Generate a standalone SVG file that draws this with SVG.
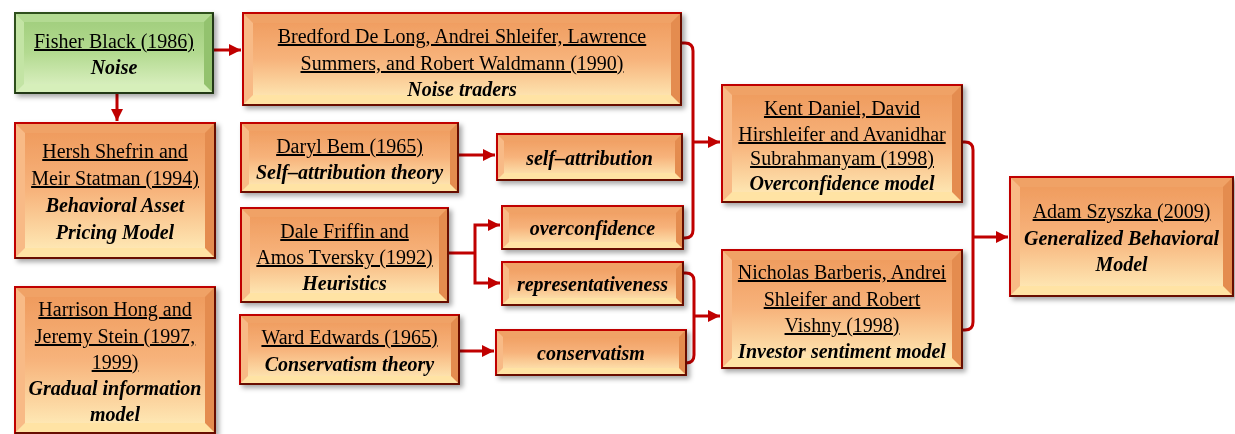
<svg xmlns="http://www.w3.org/2000/svg" width="1235" height="434" viewBox="0 0 1235 434">
<style>
text{font-family:"Liberation Serif","Times New Roman",serif;font-size:20px;fill:#000;text-anchor:middle}
.a{text-decoration:underline}
.m{font-weight:bold;font-style:italic}
.box{fill:url(#face);stroke:#C00000;stroke-width:2}
.gbox{fill:url(#gface);stroke:#2F4F1F;stroke-width:2}
.ft{fill:#F0A266}
.fb{fill:#FFE3A4}
.fl{fill:#F8BA86}
.fr{fill:#E48C50}
.gt{fill:#B3DA92}
.gb{fill:#D6EFBA}
.gl{fill:#C3E4A4}
.gr{fill:#93C26E}
.edge{fill:none;stroke:#4A1400;stroke-width:1.5}
.gedge{fill:none;stroke:#1E3312;stroke-width:1.5}
.c{fill:none;stroke:#C00000;stroke-width:3}
.arr{marker-end:url(#ah)}
</style>
<defs>
<linearGradient id="face" x1="0" y1="0" x2="0" y2="1">
<stop offset="0" stop-color="#EE985A"/>
<stop offset="0.5" stop-color="#F7B37B"/>
<stop offset="1" stop-color="#FFEFBC"/>
</linearGradient>
<linearGradient id="gface" x1="0" y1="0" x2="0" y2="1">
<stop offset="0" stop-color="#9ECC7A"/>
<stop offset="0.5" stop-color="#B3DA90"/>
<stop offset="1" stop-color="#E0F3C8"/>
</linearGradient>
<filter id="sh" x="-10%" y="-10%" width="125%" height="130%">
<feDropShadow dx="3" dy="3" stdDeviation="2.5" flood-color="#000" flood-opacity="0.35"/>
</filter>
<marker id="ah" markerUnits="userSpaceOnUse" markerWidth="14" markerHeight="14" refX="12" refY="7" orient="auto">
<path d="M0,1 L12,7 L0,13 Z" fill="#C00000"/>
</marker>
</defs>

<g id="connectors">
<path class="c arr" d="M213,50 H241"/>
<path class="c arr" d="M117,93 V121"/>
<path class="c arr" d="M458,155 H495"/>
<path class="c" d="M448,253 H475"/>
<path class="c arr" d="M475,253 V225 H500"/>
<path class="c arr" d="M475,253 V283 H500"/>
<path class="c arr" d="M459,351 H494"/>
<path class="c" d="M681,43 H685 Q693,43 693,51 V230 Q693,238 685,238 H683"/>
<path class="c arr" d="M693,142 H720"/>
<path class="c" d="M683,273 H686 Q694,273 694,281 V355 Q694,363 686,363"/>
<path class="c arr" d="M694,316 H720"/>
<path class="c" d="M962,142 H965 Q973,142 973,150 V322 Q973,330 965,330 H962"/>
<path class="c arr" d="M973,237 H1008"/>
</g>

<g id="fisher" filter="url(#sh)">
<rect class="gbox" x="15" y="13" width="198" height="80"/>
<path class="gt" d="M15,13 h198 l-9,9 h-180 z"/>
<path class="gb" d="M15,93 h198 l-9,-9 h-180 z"/>
<path class="gl" d="M15,13 l9,9 v62 l-9,9 z"/>
<path class="gr" d="M213,13 l-9,9 v62 l9,9 z"/>
<rect class="gbox" x="15" y="13" width="198" height="80" fill="none" style="fill:none"/>
<path class="gedge" d="M213,13 V93 H15"/>
<text x="114" y="48" class="a">Fisher Black (1986)</text>
<text x="114" y="74" class="m">Noise</text>
</g>

<g id="noise-traders" filter="url(#sh)">
<rect class="box" x="243" y="13" width="438" height="92"/>
<path class="ft" d="M243,13 h438 l-10,10 h-418 z"/>
<path class="fb" d="M243,105 h438 l-10,-10 h-418 z"/>
<path class="fl" d="M243,13 l10,10 v72 l-10,10 z"/>
<path class="fr" d="M681,13 l-10,10 v72 l10,10 z"/>
<rect class="box" x="243" y="13" width="438" height="92" style="fill:none"/>
<path class="edge" d="M681,13 V105 H243"/>
<text x="462" y="43" class="a">Bredford De Long, Andrei Shleifer, Lawrence</text>
<text x="462" y="70" class="a">Summers, and Robert Waldmann (1990)</text>
<text x="462" y="96" class="m">Noise traders</text>
</g>

<g id="shefrin" filter="url(#sh)">
<rect class="box" x="15" y="123" width="200" height="135"/>
<path class="ft" d="M15,123 h200 l-10,10 h-180 z"/>
<path class="fb" d="M15,258 h200 l-10,-10 h-180 z"/>
<path class="fl" d="M15,123 l10,10 v115 l-10,10 z"/>
<path class="fr" d="M215,123 l-10,10 v115 l10,10 z"/>
<rect class="box" x="15" y="123" width="200" height="135" style="fill:none"/>
<path class="edge" d="M215,123 V258 H15"/>
<text x="115" y="158" class="a">Hersh Shefrin and</text>
<text x="115" y="185" class="a">Meir Statman (1994)</text>
<text x="115" y="212" class="m">Behavioral Asset</text>
<text x="115" y="239" class="m">Pricing Model</text>
</g>

<g id="hong" filter="url(#sh)">
<rect class="box" x="15" y="287" width="200" height="146"/>
<path class="ft" d="M15,287 h200 l-10,10 h-180 z"/>
<path class="fb" d="M15,433 h200 l-10,-10 h-180 z"/>
<path class="fl" d="M15,287 l10,10 v126 l-10,10 z"/>
<path class="fr" d="M215,287 l-10,10 v126 l10,10 z"/>
<rect class="box" x="15" y="287" width="200" height="146" style="fill:none"/>
<path class="edge" d="M215,287 V433 H15"/>
<text x="115" y="316" class="a">Harrison Hong and</text>
<text x="115" y="343" class="a">Jeremy Stein (1997,</text>
<text x="115" y="369" class="a">1999)</text>
<text x="115" y="395" class="m">Gradual information</text>
<text x="115" y="421" class="m">model</text>
</g>

<g id="bem" filter="url(#sh)">
<rect class="box" x="241" y="123" width="217" height="69"/>
<path class="ft" d="M241,123 h217 l-8,8 h-201 z"/>
<path class="fb" d="M241,192 h217 l-8,-8 h-201 z"/>
<path class="fl" d="M241,123 l8,8 v53 l-8,8 z"/>
<path class="fr" d="M458,123 l-8,8 v53 l8,8 z"/>
<rect class="box" x="241" y="123" width="217" height="69" style="fill:none"/>
<path class="edge" d="M458,123 V192 H241"/>
<text x="349.5" y="153" class="a">Daryl Bem (1965)</text>
<text x="349.5" y="179" class="m">Self–attribution theory</text>
</g>

<g id="self-attribution" filter="url(#sh)">
<rect class="box" x="497" y="134" width="185" height="46"/>
<path class="ft" d="M497,134 h185 l-7,7 h-171 z"/>
<path class="fb" d="M497,180 h185 l-7,-7 h-171 z"/>
<path class="fl" d="M497,134 l7,7 v32 l-7,7 z"/>
<path class="fr" d="M682,134 l-7,7 v32 l7,7 z"/>
<rect class="box" x="497" y="134" width="185" height="46" style="fill:none"/>
<path class="edge" d="M682,134 V180 H497"/>
<text x="589.5" y="165" class="m">self–attribution</text>
</g>

<g id="friffin" filter="url(#sh)">
<rect class="box" x="241" y="208" width="207" height="94"/>
<path class="ft" d="M241,208 h207 l-9,9 h-189 z"/>
<path class="fb" d="M241,302 h207 l-9,-9 h-189 z"/>
<path class="fl" d="M241,208 l9,9 v76 l-9,9 z"/>
<path class="fr" d="M448,208 l-9,9 v76 l9,9 z"/>
<rect class="box" x="241" y="208" width="207" height="94" style="fill:none"/>
<path class="edge" d="M448,208 V302 H241"/>
<text x="344.5" y="238" class="a">Dale Friffin and</text>
<text x="344.5" y="264" class="a">Amos Tversky (1992)</text>
<text x="344.5" y="290" class="m">Heuristics</text>
</g>

<g id="overconfidence" filter="url(#sh)">
<rect class="box" x="502" y="206" width="181" height="43"/>
<path class="ft" d="M502,206 h181 l-7,7 h-167 z"/>
<path class="fb" d="M502,249 h181 l-7,-7 h-167 z"/>
<path class="fl" d="M502,206 l7,7 v29 l-7,7 z"/>
<path class="fr" d="M683,206 l-7,7 v29 l7,7 z"/>
<rect class="box" x="502" y="206" width="181" height="43" style="fill:none"/>
<path class="edge" d="M683,206 V249 H502"/>
<text x="592.5" y="235" class="m">overconfidence</text>
</g>

<g id="representativeness" filter="url(#sh)">
<rect class="box" x="502" y="262" width="181" height="43"/>
<path class="ft" d="M502,262 h181 l-7,7 h-167 z"/>
<path class="fb" d="M502,305 h181 l-7,-7 h-167 z"/>
<path class="fl" d="M502,262 l7,7 v29 l-7,7 z"/>
<path class="fr" d="M683,262 l-7,7 v29 l7,7 z"/>
<rect class="box" x="502" y="262" width="181" height="43" style="fill:none"/>
<path class="edge" d="M683,262 V305 H502"/>
<text x="592.5" y="291" class="m">representativeness</text>
</g>

<g id="edwards" filter="url(#sh)">
<rect class="box" x="240" y="315" width="219" height="69"/>
<path class="ft" d="M240,315 h219 l-8,8 h-203 z"/>
<path class="fb" d="M240,384 h219 l-8,-8 h-203 z"/>
<path class="fl" d="M240,315 l8,8 v53 l-8,8 z"/>
<path class="fr" d="M459,315 l-8,8 v53 l8,8 z"/>
<rect class="box" x="240" y="315" width="219" height="69" style="fill:none"/>
<path class="edge" d="M459,315 V384 H240"/>
<text x="349.5" y="344" class="a">Ward Edwards (1965)</text>
<text x="349.5" y="371" class="m">Conservatism theory</text>
</g>

<g id="conservatism" filter="url(#sh)">
<rect class="box" x="496" y="330" width="190" height="45"/>
<path class="ft" d="M496,330 h190 l-7,7 h-176 z"/>
<path class="fb" d="M496,375 h190 l-7,-7 h-176 z"/>
<path class="fl" d="M496,330 l7,7 v31 l-7,7 z"/>
<path class="fr" d="M686,330 l-7,7 v31 l7,7 z"/>
<rect class="box" x="496" y="330" width="190" height="45" style="fill:none"/>
<path class="edge" d="M686,330 V375 H496"/>
<text x="591" y="360" class="m">conservatism</text>
</g>

<g id="daniel" filter="url(#sh)">
<rect class="box" x="722" y="85" width="240" height="117"/>
<path class="ft" d="M722,85 h240 l-10,10 h-220 z"/>
<path class="fb" d="M722,202 h240 l-10,-10 h-220 z"/>
<path class="fl" d="M722,85 l10,10 v97 l-10,10 z"/>
<path class="fr" d="M962,85 l-10,10 v97 l10,10 z"/>
<rect class="box" x="722" y="85" width="240" height="117" style="fill:none"/>
<path class="edge" d="M962,85 V202 H722"/>
<text x="842" y="115" class="a">Kent Daniel, David</text>
<text x="842" y="141" class="a">Hirshleifer and Avanidhar</text>
<text x="842" y="165" class="a">Subrahmanyam (1998)</text>
<text x="842" y="190" class="m">Overconfidence model</text>
</g>

<g id="barberis" filter="url(#sh)">
<rect class="box" x="722" y="250" width="240" height="118"/>
<path class="ft" d="M722,250 h240 l-10,10 h-220 z"/>
<path class="fb" d="M722,368 h240 l-10,-10 h-220 z"/>
<path class="fl" d="M722,250 l10,10 v98 l-10,10 z"/>
<path class="fr" d="M962,250 l-10,10 v98 l10,10 z"/>
<rect class="box" x="722" y="250" width="240" height="118" style="fill:none"/>
<path class="edge" d="M962,250 V368 H722"/>
<text x="842" y="279" class="a">Nicholas Barberis, Andrei</text>
<text x="842" y="306" class="a">Shleifer and Robert</text>
<text x="842" y="332" class="a">Vishny (1998)</text>
<text x="842" y="358" class="m">Investor sentiment model</text>
</g>

<g id="szyszka" filter="url(#sh)">
<rect class="box" x="1010" y="177" width="223" height="119"/>
<path class="ft" d="M1010,177 h223 l-10,10 h-203 z"/>
<path class="fb" d="M1010,296 h223 l-10,-10 h-203 z"/>
<path class="fl" d="M1010,177 l10,10 v99 l-10,10 z"/>
<path class="fr" d="M1233,177 l-10,10 v99 l10,10 z"/>
<rect class="box" x="1010" y="177" width="223" height="119" style="fill:none"/>
<path class="edge" d="M1233,177 V296 H1010"/>
<text x="1121.5" y="218" class="a">Adam Szyszka (2009)</text>
<text x="1121.5" y="245" class="m">Generalized Behavioral</text>
<text x="1121.5" y="271" class="m">Model</text>
</g>
</svg>
